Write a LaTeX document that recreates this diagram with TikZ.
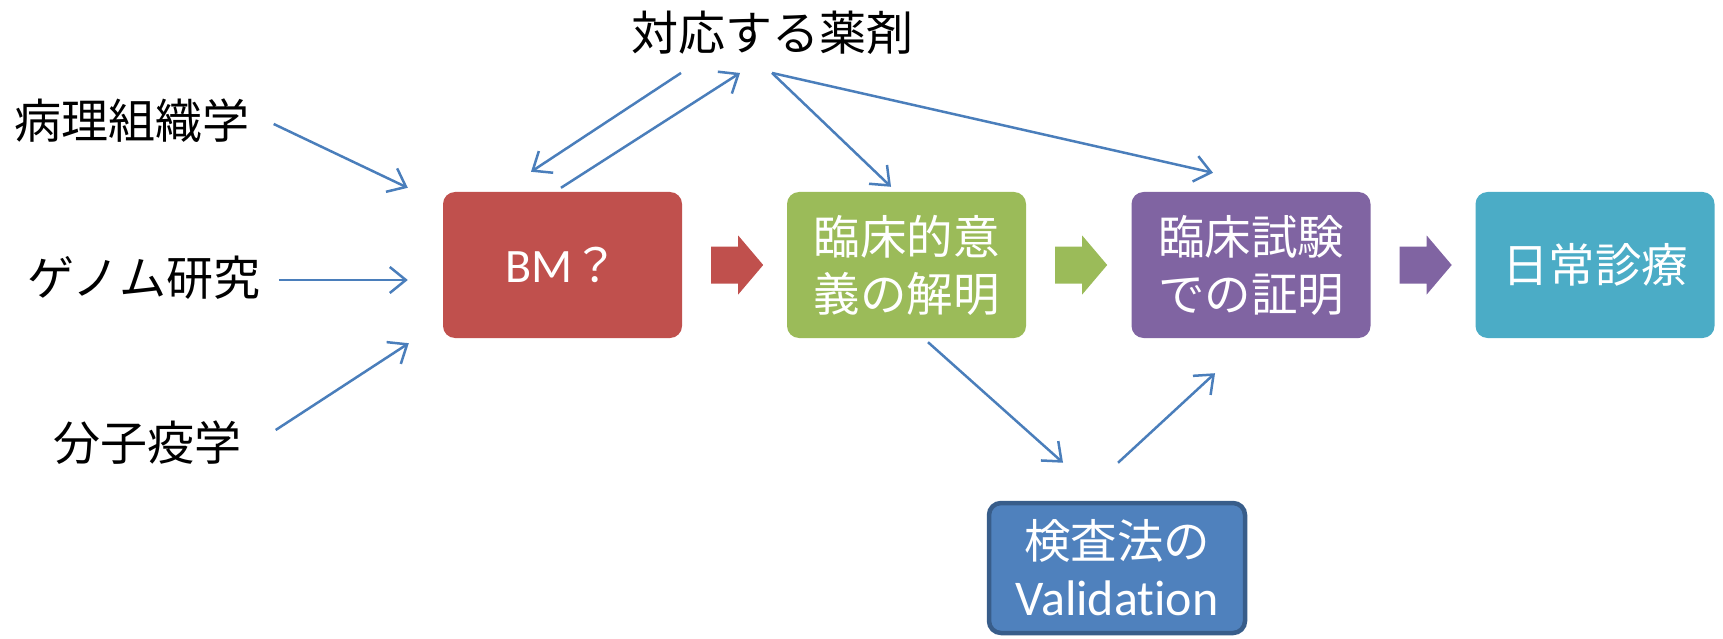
\documentclass[tikz,border=0pt]{standalone}
\usepackage{fontspec}
\setmainfont{Carlito}
\newfontfamily\jp{Noto Sans CJK JP}
\newfontfamily\lat[Ligatures={NoCommon}]{Carlito}
\usetikzlibrary{arrows.meta,calc}
\definecolor{cred}{HTML}{C0504D}
\definecolor{cgreen}{HTML}{9BBB59}
\definecolor{cpurple}{HTML}{8064A2}
\definecolor{cteal}{HTML}{4BACC6}
\definecolor{cblue}{HTML}{4F81BD}
\definecolor{cblueedge}{HTML}{385D8A}
\definecolor{cline}{HTML}{4A7EBB}
\tikzset{
  lbl/.style={inner sep=0pt, text=black, font=\jp\fontsize{47}{57}\selectfont},
  box/.style={rounded corners=12pt, minimum width=239pt, minimum height=146pt, inner sep=0pt,
    text=white, align=center, font=\jp\fontsize{46.5}{57}\selectfont},
  conn/.style={draw=cline, line width=2.5pt, -{Straight Barb[length=16pt,width=26pt,line width=2.5pt]}},
}
\newcommand{\blockarrow}[3]{%
  \fill[#3] ($(#1)+(#2,-18.5)$) -- ++(27,0) -- ++(0,-11) -- ++(25,29.5) -- ++(-25,29.5) -- ++(0,-11) -- ++(-27,0) -- cycle;}
\begin{document}
\begin{tikzpicture}[x=1pt,y=-1pt]
\useasboundingbox (0,0) rectangle (1723,639);
% labels
\node[lbl] (drug) at (772,33) {対応する薬剤};
\node[lbl] (path) at (132,121) {病理組織学};
\node[lbl] (genome) at (144,278) {ゲノム研究};
\node[lbl] (mol) at (147.5,443) {分子疫学};
% boxes
\node[box, fill=cred] (bm) at (562.5,265) {{\lat\fontsize{48}{57}\selectfont BM}？};
\node[box, fill=cgreen] (green) at (906.5,265) {臨床的意\\義の解明};
\node[box, fill=cpurple] (purple) at (1251,265) {臨床試験\\での証明};
\node[box, fill=cteal] (teal) at (1595,265) {日常診療};
\node[box, fill=cblue, draw=cblueedge, line width=4.5pt, minimum width=256pt, minimum height=130pt] (blue) at (1117,568) {検査法の\\{\lat\fontsize{50}{57}\selectfont Validation}};
% block arrows
\blockarrow{bm.east}{29}{cred}
\blockarrow{green.east}{29}{cgreen}
\blockarrow{purple.east}{29}{cpurple}
% connectors
\draw[conn] ($(path.east)+(24,3)$) -- ($(bm.north west)+(-35,-4)$);
\draw[conn] ($(genome.east)+(18,2)$) -- ($(bm.west)+(-35,15)$);
\draw[conn] ($(mol.east)+(34,-13)$) -- ($(bm.south west)+(-34,5)$);
\draw[conn] ($(drug.south)+(-91,18)$) -- ($(bm.north)+(-31.5,-20)$);
\draw[conn] ($(bm.north)+(-1.5,-4)$) -- ($(drug.south)+(-32,18)$);
\draw[conn] ($(drug.south)+(0,18)$) -- ($(green.north)+(-15.5,-5)$);
\draw[conn] ($(drug.south)+(0,18)$) -- ($(purple.north)+(-38,-19)$);
\draw[conn] ($(green.south)+(21.5,4)$) -- ($(blue.north)+(-54,-38)$);
\draw[conn] ($(blue.north)+(1,-38)$) -- ($(purple.south)+(-36,35)$);
\end{tikzpicture}
\end{document}
